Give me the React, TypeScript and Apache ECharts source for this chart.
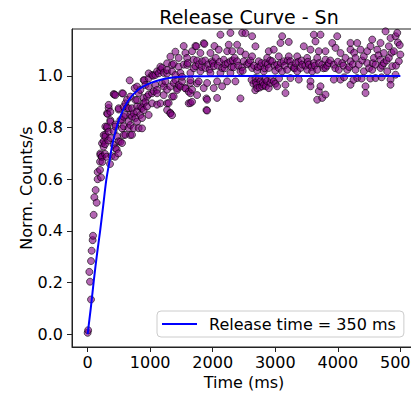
import React, { useEffect, useRef } from "react";
import * as echarts from "echarts";

const riseData: [number, number][] = [
  [0, 0.005], [8, 0.015], [27, 0.241], [38, 0.203], [54, 0.134], [54, 0.283], [64, 0.323],
  [80, 0.364], [86, 0.381], [96, 0.462], [107, 0.53], [128, 0.558], [144, 0.509],
  [160, 0.6], [160, 0.628], [198, 0.636], [198, 0.668], [203, 0.7], [203, 0.694], [214, 0.607],
  [224, 0.687], [230, 0.687], [230, 0.739], [235, 0.667], [256, 0.747], [256, 0.726], [256, 0.771],
  [278, 0.698], [278, 0.736], [283, 0.772], [283, 0.765], [283, 0.804], [304, 0.687],
  [310, 0.798], [310, 0.804], [310, 0.855], [320, 0.853], [330, 0.75], [336, 0.876],
  [336, 0.784], [336, 0.888], [358, 0.659], [363, 0.76], [363, 0.829], [363, 0.823],
  [363, 0.861], [384, 0.69], [416, 0.786], [416, 0.734], [416, 0.93], [427, 0.928],
  [438, 0.687], [443, 0.812], [443, 0.804], [443, 0.926], [443, 0.72], [464, 0.716],
  [470, 0.766], [491, 0.7], [496, 0.87], [496, 0.747], [496, 0.875], [523, 0.829],
  [523, 0.745], [550, 0.831], [550, 0.74], [550, 0.933], [550, 0.797], [566, 0.932],
  [576, 0.805], [576, 0.771], [576, 0.881], [576, 0.842],
];

const midData: [number, number][] = [
  [603, 0.772], [603, 0.849], [603, 0.894], [630, 0.908], [630, 0.876], [656, 0.824],
  [656, 0.798], [656, 0.875], [672, 0.983], [683, 0.85], [683, 0.771], [683, 0.81],
  [683, 0.92], [710, 0.772], [710, 0.842], [710, 0.875], [736, 0.798], [736, 0.855],
  [752, 0.953], [763, 0.837], [763, 0.907], [790, 0.882], [790, 0.862], [790, 0.959],
  [790, 0.823], [790, 0.907], [816, 0.934], [816, 0.798], [843, 0.881], [843, 0.946],
  [843, 0.849], [870, 0.876], [870, 0.837], [870, 0.797], [896, 0.915], [896, 0.894],
  [896, 0.868], [896, 0.984], [907, 0.983], [923, 0.965], [923, 0.9], [950, 0.882],
  [950, 0.92], [976, 0.928], [976, 0.991], [976, 1.01], [976, 0.849], [976, 0.959],
  [1030, 0.933], [1030, 0.894], [1030, 1.004], [1046, 1.001], [1056, 0.941], [1083, 1.004],
  [1083, 0.965], [1110, 1.018], [1110, 0.889], [1110, 0.946], [1110, 0.933], [1136, 1.01],
  [1163, 1.023], [1163, 1.036], [1163, 0.894], [1190, 1.031], [1190, 0.971], [1216, 0.959],
  [1216, 1.012], [1216, 0.926], [1243, 0.979], [1270, 1.049], [1270, 1.01], [1270, 0.947],
  [1270, 0.894], [1270, 0.868], [1270, 1.023], [1296, 0.895], [1323, 1.075], [1323, 0.857],
  [1323, 0.855], [1323, 0.959], [1350, 1.018], [1350, 0.848], [1350, 0.92], [1350, 1.043],
  [1376, 1.047], [1376, 0.973], [1376, 0.921], [1403, 1.094], [1403, 0.984], [1403, 1.004],
  [1430, 0.953], [1430, 0.946], [1456, 1.07], [1456, 0.965], [1456, 1.036], [1483, 1.012],
  [1483, 0.959],
];

const plateauEarly: [number, number][] = [
  [1510, 0.979], [1510, 0.997], [1536, 1.116], [1536, 1.044], [1563, 1.089], [1563, 0.953],
  [1563, 0.952], [1590, 1.07], [1590, 1.043], [1600, 1.05], [1616, 0.939], [1616, 0.894],
  [1643, 1.012], [1643, 0.973], [1643, 0.895], [1643, 0.933], [1643, 0.984], [1670, 1.096],
  [1670, 0.947], [1670, 0.9], [1696, 1.063], [1696, 1.03], [1723, 1.116], [1723, 1.038],
  [1739, 1.115], [1750, 1.06], [1750, 0.926], [1750, 0.971], [1776, 0.979], [1780, 1.045],
  [1803, 1.089], [1803, 1.018], [1820, 1.035], [1830, 1.057], [1856, 0.953], [1856, 1.127],
  [1867, 1.124], [1880, 1.06], [1883, 1.031], [1899, 0.913], [1899, 0.868], [1910, 0.973],
  [1910, 0.908], [1910, 0.866], [1930, 1.045], [1950, 1.025], [1963, 1.089], [1963, 1.012],
  [1990, 1.057], [2000, 1.05], [2016, 1.038], [2016, 0.953], [2027, 1.116], [2050, 1.07],
  [2070, 0.979], [2070, 0.915], [2080, 1.04], [2096, 1.102], [2110, 1.055], [2123, 1.16],
  [2123, 1.012], [2150, 1.031], [2150, 0.96], [2176, 1.063], [2190, 1.03], [2200, 1.045],
  [2230, 1.096], [2230, 0.979], [2240, 1.05], [2256, 1.121], [2283, 1.167], [2283, 1.057],
  [2283, 1.012], [2300, 1.035], [2310, 1.096], [2320, 1.06], [2336, 1.034], [2350, 1.07],
  [2363, 0.979], [2390, 1.121], [2390, 1.057], [2410, 1.04], [2443, 1.096], [2443, 1.018],
  [2443, 0.913], [2470, 1.167], [2470, 1.034], [2480, 1.02], [2496, 1.057],
];

const plateauMid: [number, number][] = [
  [2523, 1.083], [2523, 1.166], [2550, 1.045], [2576, 1.05], [2600, 1.06], [2620, 0.985],
  [2630, 1.154], [2630, 1.076], [2630, 1.031], [2650, 0.97], [2660, 1.04], [2680, 0.945],
  [2683, 1.115], [2683, 0.992], [2690, 0.975], [2700, 0.965], [2710, 1.021], [2710, 0.953],
  [2720, 1.035], [2736, 1.057], [2740, 0.99], [2750, 0.955], [2763, 1.038], [2763, 0.979],
  [2780, 1.05], [2790, 0.96], [2800, 0.975], [2816, 1.018], [2820, 0.965], [2830, 1.03],
  [2843, 1.05], [2843, 0.986], [2850, 0.96], [2870, 1.07], [2870, 0.98], [2880, 1.045],
  [2896, 1.096], [2896, 1.031], [2896, 0.953], [2920, 1.06], [2923, 0.973], [2940, 0.985],
  [2950, 1.057], [2976, 1.102], [2976, 0.979], [2990, 1.04], [3000, 1.02], [3000, 0.97],
  [3030, 1.044], [3030, 0.96], [3056, 1.076], [3056, 1.031], [3060, 0.99], [3083, 1.128],
  [3090, 1.05], [3110, 1.154], [3110, 1.018], [3136, 1.057], [3150, 1.04], [3163, 0.966],
  [3163, 0.934], [3190, 1.024], [3200, 1.06], [3216, 1.132], [3216, 1.076], [3243, 1.057],
  [3243, 0.992], [3260, 1.04], [3296, 1.031], [3310, 1.03], [3323, 1.05], [3350, 1.076],
  [3350, 1.018], [3370, 1.055], [3376, 0.986], [3403, 1.031], [3420, 1.06], [3430, 1.044],
  [3456, 1.115], [3480, 1.04], [3510, 1.07], [3510, 1.024], [3520, 1.055], [3536, 1.044],
  [3563, 1.102], [3563, 0.979], [3563, 0.96], [3580, 1.035], [3590, 1.018], [3616, 1.16],
  [3616, 1.05], [3630, 1.04], [3643, 1.134], [3670, 1.07], [3670, 1.024], [3670, 0.908],
  [3696, 1.096], [3696, 0.941], [3700, 1.05], [3723, 1.16], [3723, 0.96], [3750, 1.044],
  [3750, 0.915], [3770, 1.03], [3803, 1.096], [3803, 1.063], [3803, 1.031], [3803, 0.928],
];

const plateauLate: [number, number][] = [
  [3830, 1.04], [3856, 1.05], [3880, 1.06], [3910, 1.128], [3936, 1.044], [3936, 0.986],
  [3960, 1.03], [3963, 1.109], [3990, 1.154], [4000, 1.055], [4016, 1.024], [4043, 1.089],
  [4043, 0.986], [4070, 1.05], [4090, 1.04], [4100, 0.995], [4123, 1.07], [4150, 1.024],
  [4180, 1.035], [4203, 1.128], [4203, 1.102], [4203, 1.057], [4203, 0.966], [4240, 1.045],
  [4250, 0.985], [4260, 1.09], [4283, 1.07], [4283, 1.024], [4310, 1.128], [4310, 0.992],
  [4336, 1.044], [4363, 1.102], [4380, 0.99], [4390, 1.06], [4416, 1.076], [4416, 1.018],
  [4443, 0.96], [4443, 0.934], [4470, 1.096], [4470, 1.05], [4500, 1.03], [4520, 0.99],
  [4523, 1.115], [4550, 1.141], [4550, 1.024], [4560, 1.05], [4576, 1.07], [4603, 1.044],
  [4603, 0.992], [4630, 1.102], [4650, 1.08], [4683, 1.128], [4683, 1.063], [4683, 1.031],
  [4700, 0.995], [4710, 1.04], [4736, 1.089], [4736, 1.05], [4763, 1.173], [4780, 1.06],
  [4790, 1.018], [4816, 1.115], [4816, 1.07], [4843, 1.147], [4843, 0.986], [4843, 0.966],
  [4860, 1.09], [4870, 1.038], [4896, 1.096], [4923, 1.154], [4923, 1.005], [4930, 1.04],
  [4950, 1.167], [4960, 1.13], [4976, 1.057], [4990, 1.12], [5000, 1.083],
];

// Fitted release curve
const fitTime = [0, 50, 100, 150, 200, 250, 300, 350, 400, 500, 650, 800, 1000, 1200, 1400, 1700, 2500, 5000];
const fitValue = [0.0, 0.1, 0.21, 0.31, 0.4, 0.5, 0.6, 0.67, 0.74, 0.83, 0.905, 0.945, 0.972, 0.987, 0.995, 0.999, 1.0, 1.0];

const xTicks = [0, 1000, 2000, 3000, 4000, 5000];
const yTicks = [0, 0.2, 0.4, 0.6, 0.8, 1.0];

const seriesName = "Release time = 350 ms";
const FONT = "DejaVu Sans";

export default function App() {
  const ref = useRef<HTMLDivElement>(null);
  useEffect(() => {
    const chart = echarts.init(ref.current!, null, { renderer: "svg" });
    const scatter = [...riseData, ...midData, ...plateauEarly, ...plateauMid, ...plateauLate];
    chart.setOption({
      animation: false,
      backgroundColor: "#ffffff",
      title: {
        text: "Release Curve - Sn",
        left: 244,
        textAlign: "center",
        top: 2,
        textStyle: { fontFamily: FONT, fontSize: 19, fontWeight: "normal", color: "#000" },
      },
      grid: {
        left: 72,
        top: 29,
        width: 344,
        height: 318,
        show: true,
        borderColor: "#222",
        borderWidth: 1,
        backgroundColor: "transparent",
        containLabel: false,
        outerBoundsMode: "none",
      },
      legend: {
        data: [{ name: seriesName, icon: "rect" }],
        left: 157,
        top: 311,
        itemWidth: 35,
        itemHeight: 2,
        padding: [5, 8, 5, 5],
        borderColor: "#cccccc",
        borderWidth: 1,
        borderRadius: 4,
        backgroundColor: "rgba(255,255,255,0.8)",
        textStyle: { fontFamily: FONT, fontSize: 16, color: "#000", padding: [0, 0, 0, 7] },
      },
      xAxis: {
        type: "value",
        min: -250,
        max: 5250,
        name: "Time (ms)",
        nameLocation: "middle",
        nameGap: 27,
        nameMoveOverlap: false,
        nameTextStyle: { fontFamily: FONT, fontSize: 16, color: "#000" },
        splitLine: { show: false },
        axisLine: { show: true, onZero: false, lineStyle: { color: "#222", width: 1 } },
        axisTick: { show: true, length: 5, customValues: xTicks, lineStyle: { color: "#222" } },
        axisLabel: {
          customValues: xTicks,
          fontFamily: FONT,
          fontSize: 16,
          color: "#000",
          margin: 7,
          formatter: (v: number) => String(Math.round(v)),
        },
      },
      yAxis: {
        type: "value",
        min: -0.05,
        max: 1.182,
        name: "Norm. Counts/s",
        nameLocation: "middle",
        nameGap: 38,
        nameMoveOverlap: false,
        nameTextStyle: { fontFamily: FONT, fontSize: 16, color: "#000" },
        splitLine: { show: false },
        axisLine: { show: true, onZero: false, lineStyle: { color: "#222", width: 1 } },
        axisTick: { show: true, length: 5, customValues: yTicks, lineStyle: { color: "#222" } },
        axisLabel: {
          customValues: yTicks,
          fontFamily: FONT,
          fontSize: 16,
          color: "#000",
          margin: 9,
          formatter: (v: number) => v.toFixed(1),
        },
      },
      series: [
        {
          type: "scatter",
          name: "data",
          data: scatter,
          symbolSize: 7,
          itemStyle: { color: "rgba(128,0,128,0.75)", borderColor: "rgba(0,0,0,0.75)", borderWidth: 1 },
          z: 2,
        },
        {
          type: "line",
          name: seriesName,
          data: fitTime.map((t, i) => [t, fitValue[i]]),
          showSymbol: false,
          smooth: 0.3,
          color: "#0000ff",
          lineStyle: { color: "#0000ff", width: 2 },
          z: 3,
        },
      ],
    });
    return () => chart.dispose();
  }, []);
  return <div ref={ref} style={{ position: "absolute", left: 0, top: 0, width: 411, height: 394 }} />;
}
